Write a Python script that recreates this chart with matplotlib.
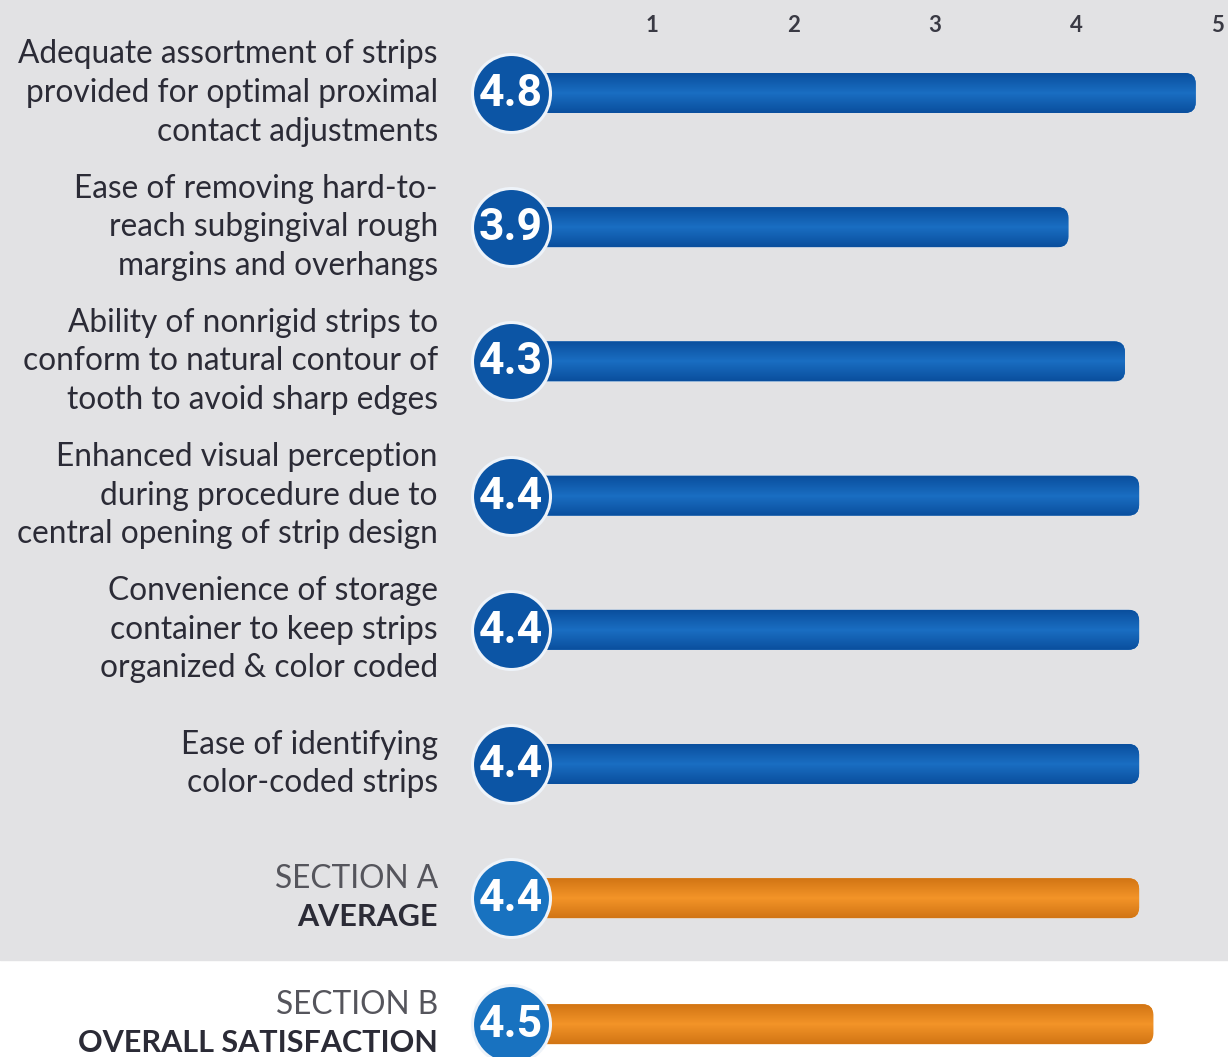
import matplotlib.pyplot as plt
import numpy as np
from matplotlib.patches import FancyBboxPatch
from matplotlib.colors import LinearSegmentedColormap

# data
labels = [
    "Adequate assortment of strips\nprovided for optimal proximal\ncontact adjustments",
    "Ease of removing hard-to-\nreach subgingival rough\nmargins and overhangs",
    "Ability of nonrigid strips to\nconform to natural contour of\ntooth to avoid sharp edges",
    "Enhanced visual perception\nduring procedure due to\ncentral opening of strip design",
    "Convenience of storage\ncontainer to keep strips\norganized & color coded",
    "Ease of identifying\ncolor-coded strips",
]
scores = [4.8, 3.9, 4.3, 4.4, 4.4, 4.4]
section_titles = ["SECTION A", "SECTION B"]
section_names = ["AVERAGE", "OVERALL SATISFACTION"]
section_scores = [4.4, 4.5]
ticks = [1, 2, 3, 4, 5]

# layout (pixels)
W, H = 1228, 1057
px_per_unit = 141.5
x0_px = 510.5
row_pitch = 134.2
first_row = 93
bar_h = 40
badge_r = 39
cap_ext = 6 / px_per_unit
label_fs = 22.8

bg_gray = "#e2e2e4"
text_col = "#2b2b36"
blue_cmap = LinearSegmentedColormap.from_list("b", ["#0a4f9e", "#1a6ec2", "#0a4f9e"])
orange_cmap = LinearSegmentedColormap.from_list("o", ["#d27514", "#f39428", "#d27514"])

fig = plt.figure(figsize=(W / 100, H / 100), dpi=100, facecolor="white")
ax = fig.add_axes([0, 0, 1, 1])
xlim = (-x0_px / px_per_unit, (W - x0_px) / px_per_unit)
ylim = (H, 0)
ax.axis("off")

ys = [first_row + row_pitch * i for i in range(len(labels) + 1)]
ys.append(ys[-1] + 126)
ax.axhspan(0, 960, color=bg_gray, zorder=0)

grad = np.linspace(0, 1, 50).reshape(-1, 1)
label_x = -72.5 / px_per_unit


def draw_bar(y, v, cmap, badge_col):
    patch = FancyBboxPatch((0, y - bar_h / 2), v + cap_ext, bar_h,
                           boxstyle="round,pad=0,rounding_size=0.075",
                           mutation_aspect=px_per_unit,
                           facecolor=cmap(0.5), edgecolor="none", zorder=2)
    ax.add_patch(patch)
    im = ax.imshow(grad, extent=[0, v + 0.1, y + bar_h / 2, y - bar_h / 2],
                   aspect="auto", cmap=cmap, zorder=3)
    im.set_clip_path(patch)
    d_pt = 2 * badge_r * 72 / 100
    ax.scatter([0], [y], s=d_pt ** 2, color=badge_col, edgecolors="#eef3f9",
               linewidths=2.2, zorder=4)
    ax.text(0, y + 1, f"{v:.1f}", color="white", fontsize=32, fontweight="bold",
            family="Roboto", ha="center", va="center", zorder=5)


for i, (lab, v) in enumerate(zip(labels, scores)):
    draw_bar(ys[i], v, blue_cmap, "#0c55a5")
    ax.text(label_x, ys[i], lab, ha="right", va="center",
            multialignment="right", fontsize=label_fs, family="Lato",
            color=text_col, linespacing=1.36)

for j in range(2):
    y = ys[len(labels) + j]
    draw_bar(y, section_scores[j], orange_cmap, "#1872c0")
    ax.text(label_x, y - 19, section_titles[j], ha="right",
            va="center", fontsize=label_fs, family="Lato", color="#55555c")
    ax.text(label_x, y + 19, section_names[j], ha="right",
            va="center", fontsize=label_fs - 0.8, family="Lato", fontweight="bold",
            color=text_col)

for t in ticks:
    ax.text(t, 25, str(t), ha="center", va="center", fontsize=16,
            family="Lato", fontweight="bold", color="#3a3a44")

ax.set_xlim(*xlim)
ax.set_ylim(*ylim)
fig.savefig("out.png", dpi=100, facecolor="white")
